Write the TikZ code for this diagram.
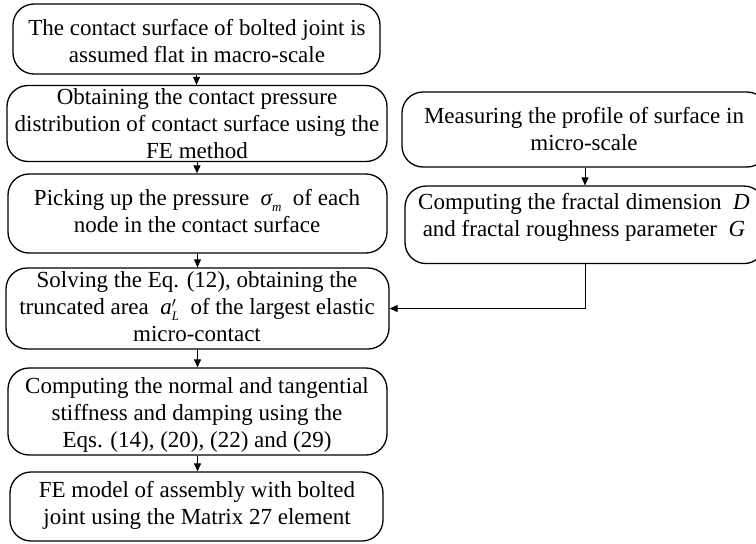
\documentclass[tikz,border=0pt]{standalone}
\usepackage{fontspec}
\setmainfont{Liberation Serif}
\usetikzlibrary{arrows.meta,calc}
\newcommand\subit[1]{\raisebox{-0.28em}{\fontsize{13}{13}\selectfont\itshape #1}}
\newcommand\primeit{\rlap{\raisebox{0.3em}{\fontsize{14}{14}\selectfont$\prime$}}}
\tikzset{
  box/.style={draw, line width=1.3pt, rounded corners=21pt, inner sep=0pt},
  txt/.style={align=center, inner sep=0pt, font=\fontsize{23}{27}\selectfont},
  arr/.style={line width=1pt, -{Triangle[length=8pt,width=7pt]}}
}
\begin{document}
\begin{tikzpicture}[x=1pt,y=-1pt]
\useasboundingbox (0,0) rectangle (756,544);
\clip (0,0) rectangle (756,544);
% boxes
\node[box, minimum width=367pt, minimum height=70pt] (b1) at (196.5,39) {};
\node[box, minimum width=380pt, minimum height=76pt] (b2) at (197,123.5) {};
\node[box, minimum width=379pt, minimum height=79pt] (b3) at (197.5,213.5) {};
\node[box, minimum width=383pt, minimum height=81pt] (b4) at (197.5,308.5) {};
\node[box, minimum width=379pt, minimum height=87pt] (b5) at (197.5,411.5) {};
\node[box, minimum width=373pt, minimum height=69pt] (b6) at (196.5,506.5) {};
\node[box, minimum width=366pt, minimum height=75pt] (bA) at (585,129.5) {};
\node[box, minimum width=360pt, minimum height=77.5pt] (bB) at (585,224.8) {};
% texts
\node[txt] (t1) at (197,43.6) {\strut The contact surface of bolted joint is\\\strut assumed flat in macro-scale};
\node[txt] (t2) at (197,125.6) {\strut Obtaining the contact pressure\\\strut distribution of contact surface using the\\\strut FE method};
\node[txt] (t3) at (197,213.1) {\strut Picking up the pressure~ {\itshape σ}\subit{m}~ of each\\\strut node in the contact surface};
\node[txt] (t4) at (197,308.6) {\strut Solving the Eq. (12), obtaining the\\\strut truncated area~ {\itshape a}\primeit\subit{L}~ of the largest elastic\\\strut micro-contact};
\node[txt] (t5) at (197,414.6) {\strut Computing the normal and tangential\\\strut stiffness and damping using the\\\strut Eqs. (14), (20), (22) and (29)};
\node[txt] (t6) at (197,505.6) {\strut FE model of assembly with bolted\\\strut joint using the Matrix 27 element};
\node[txt] (tA) at (584,131.1) {\strut Measuring the profile of surface in\\\strut micro-scale};
\node[txt] (tB) at (584,217.6) {\strut Computing the fractal dimension~ {\itshape D}\\\strut and fractal roughness parameter~ {\itshape G}};
% connectors
\draw[arr] (b1.south) -- (b1.south |- b2.north);
\draw[arr] (b2.south) -- (b2.south |- b3.north);
\draw[arr] (b3.south) -- (b3.south |- b4.north);
\draw[arr] (b4.south) -- (b4.south |- b5.north);
\draw[arr] (b5.south) -- (b5.south |- b6.north);
\draw[arr] (bA.south) -- (bB.north);
\draw[arr] (bB.south) |- (b4.east);
\end{tikzpicture}
\end{document}
